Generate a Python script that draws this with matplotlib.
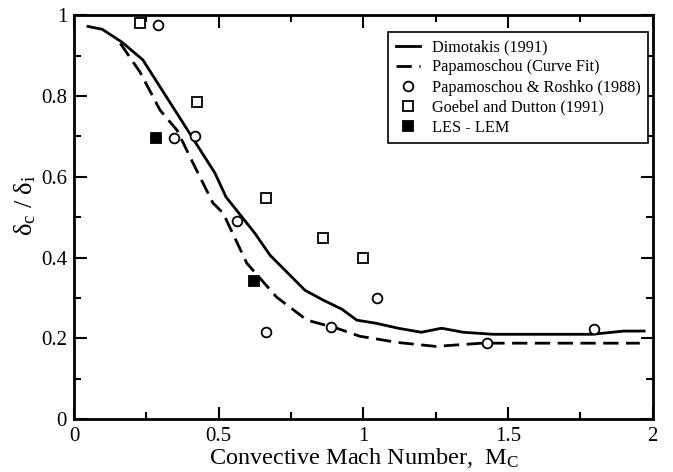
import matplotlib
matplotlib.use("Agg")
import matplotlib.pyplot as plt
from matplotlib.ticker import MultipleLocator, FixedLocator

plt.rcParams['font.family'] = ['Liberation Serif', 'DejaVu Serif']
plt.rcParams['mathtext.fontset'] = 'custom'
plt.rcParams['mathtext.rm'] = 'Liberation Serif'
plt.rcParams['mathtext.it'] = 'Liberation Serif:italic'
plt.rcParams['mathtext.bf'] = 'Liberation Serif:bold'

# Dimotakis (1991)
dim_x = [0.048, 0.097, 0.166, 0.238, 0.487, 0.525, 0.625, 0.677, 0.798, 0.86, 0.926, 0.977,
         1.046, 1.12, 1.20, 1.27, 1.345, 1.45, 1.79, 1.90, 1.97]
dim_y = [0.972, 0.965, 0.933, 0.889, 0.609, 0.55, 0.46, 0.406, 0.319, 0.295, 0.272, 0.245,
         0.237, 0.225, 0.215, 0.225, 0.215, 0.21, 0.21, 0.218, 0.218]
# Papamoschou (Curve Fit)
pap_x = [0.16, 0.228, 0.297, 0.356, 0.411, 0.48, 0.515, 0.597, 0.70, 0.805, 0.908, 0.988,
         1.033, 1.115, 1.25, 1.41, 1.955]
pap_y = [0.93, 0.859, 0.765, 0.715, 0.634, 0.535, 0.51, 0.386, 0.302, 0.245, 0.225, 0.205,
         0.2, 0.19, 0.18, 0.188, 0.188]
# Papamoschou & Roshko (1988)
pr_x = [0.29, 0.345, 0.418, 0.563, 0.663, 0.888, 1.047, 1.427, 1.796]
pr_y = [0.975, 0.695, 0.70, 0.49, 0.215, 0.228, 0.30, 0.188, 0.223]
# Goebel and Dutton (1991)
gd_x = [0.228, 0.425, 0.663, 0.86, 1.0]
gd_y = [0.98, 0.785, 0.547, 0.448, 0.398]
# LES - LEM
les_x = [0.283, 0.622]
les_y = [0.695, 0.342]

fig = plt.figure(figsize=(6.73, 4.72), dpi=100)
ax = fig.add_axes([0.110, 0.112, 0.860, 0.856])

ax.plot(dim_x, dim_y, color='black', lw=2.0, label='Dimotakis (1991)')
ax.plot(pap_x, pap_y, color='black', lw=2.0, ls=(0, (5.5, 2.7)), label='Papamoschou (Curve Fit)')
ax.plot(pr_x, pr_y, ls='none', marker='o', ms=7, mfc='white', mec='black', mew=1.3,
        label='Papamoschou & Roshko (1988)')
ax.plot(gd_x, gd_y, ls='none', marker='s', ms=6.5, mfc='white', mec='black', mew=1.3,
        label='Goebel and Dutton (1991)')
ax.plot(les_x, les_y, ls='none', marker='s', ms=6.5, mfc='black', mec='black', mew=1.3,
        label='LES - LEM')

ax.set_xlim(0, 2)
ax.set_ylim(0, 1)
ax.xaxis.set_major_locator(FixedLocator([0, 0.5, 1, 1.5, 2]))
ax.set_xticklabels(['0', '0.5', '1', '1.5', '2'])
ax.yaxis.set_major_locator(FixedLocator([0, 0.2, 0.4, 0.6, 0.8, 1]))
ax.set_yticklabels(['0', '0.2', '0.4', '0.6', '0.8', '1'])
ax.xaxis.set_minor_locator(MultipleLocator(0.25))
ax.yaxis.set_minor_locator(MultipleLocator(0.1))
ax.tick_params(which='both', direction='in', top=True, right=True, width=1.5, labelsize=15, pad=5)
ax.tick_params(axis='x', pad=6)
ax.tick_params(which='major', length=9)
ax.tick_params(which='minor', length=5)
for s in ax.spines.values():
    s.set_linewidth(2)

ax.set_xlabel(r'Convective Mach Number,  $\mathrm{M_C}$', fontsize=17.5, labelpad=0)
ax.set_ylabel(r'$\mathrm{δ_c}$ / $\mathrm{δ_i}$', fontsize=19)
ax.yaxis.set_label_coords(-0.063, 0.53)

leg = ax.legend(loc='upper right', bbox_to_anchor=(0.991, 0.958), borderaxespad=0,
                fontsize=11.7, frameon=True,
                fancybox=False, edgecolor='black', framealpha=1, handlelength=1.5,
                borderpad=0.45, labelspacing=0.25, handletextpad=0.7)
leg.get_frame().set_linewidth(1.2)

fig.savefig('out.png', dpi=100)
